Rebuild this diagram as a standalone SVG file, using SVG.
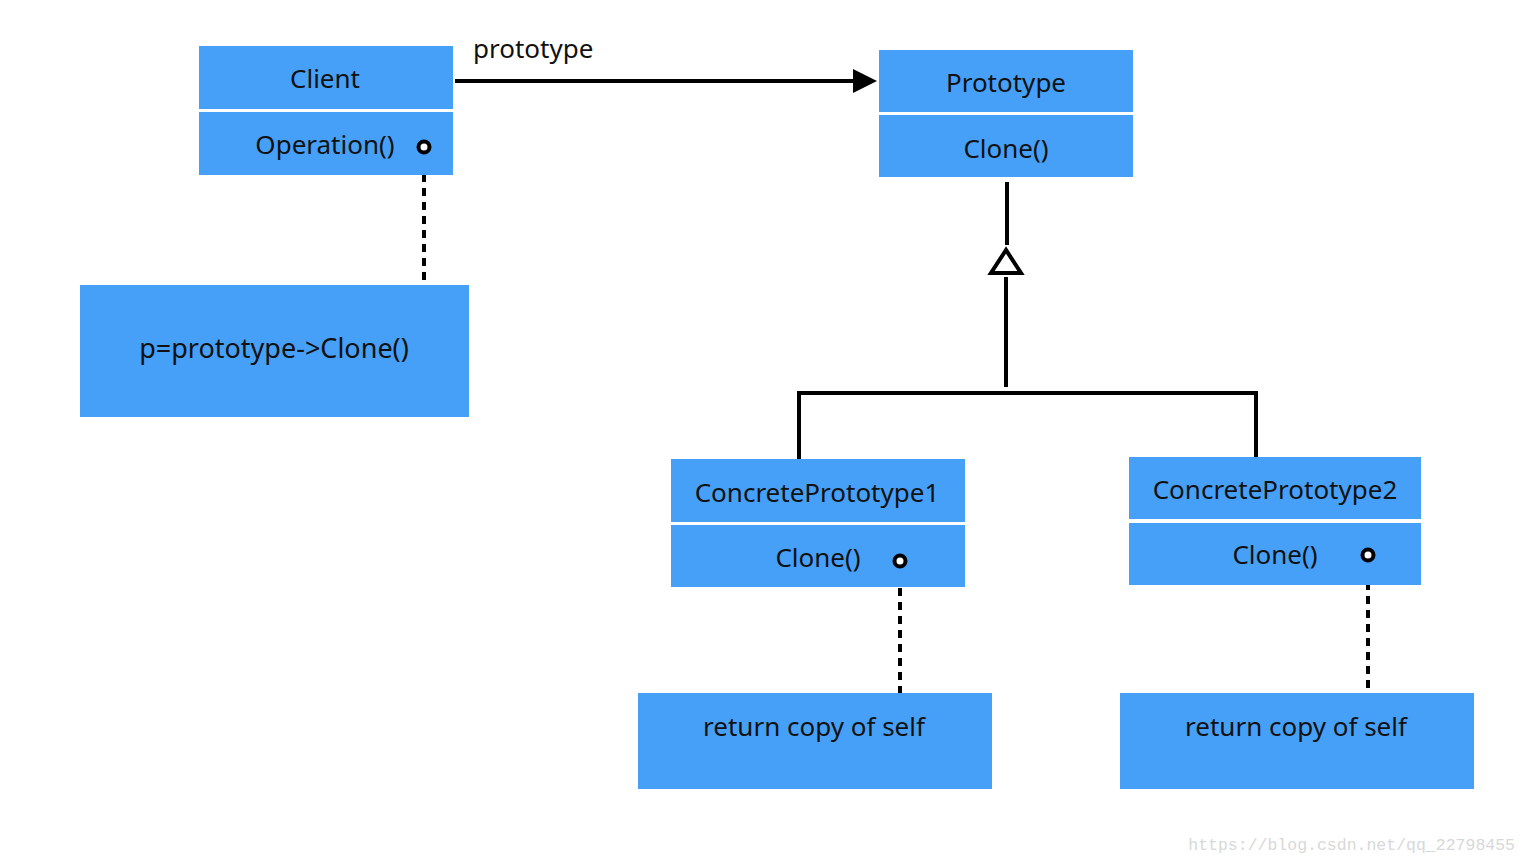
<svg xmlns="http://www.w3.org/2000/svg" width="1526" height="864" viewBox="0 0 1526 864">
<defs>
<style>
.box{fill:#46a0f8;}
.t{font-family:"Noto Sans","Liberation Sans",sans-serif;font-size:26px;fill:#111;text-anchor:middle;}
.ln{stroke:#000;stroke-width:4;fill:none;}
.dash{stroke:#000;stroke-width:4;fill:none;stroke-dasharray:8 6;}
.dot{fill:#fff;stroke:#000;stroke-width:4;}
</style>
</defs>
<rect width="1526" height="864" fill="#fff"/>
<g id="connectors">
<line class="ln" x1="455" y1="81" x2="856" y2="81"/>
<polygon points="853,69 877,81 853,93" fill="#000"/>
<text class="t" x="473" y="58" style="text-anchor:start">prototype</text>
<line class="ln" x1="1007" y1="182" x2="1007" y2="245"/>
<polygon points="1006,250 991,273 1021,273" fill="#fff" stroke="#000" stroke-width="4"/>
<line class="ln" x1="1006" y1="277" x2="1006" y2="387"/>
<polyline class="ln" points="799,459 799,393 1256,393 1256,457"/>
<line class="dash" x1="424" y1="160" x2="424" y2="285"/>
<line class="dash" x1="900" y1="574" x2="900" y2="693"/>
<line class="dash" x1="1368" y1="568" x2="1368" y2="690"/>
</g>
<g id="client">
<rect class="box" x="199" y="46" width="254" height="63"/>
<rect class="box" x="199" y="112" width="254" height="63"/>
<text class="t" x="325" y="88">Client</text>
<text class="t" x="325" y="154">Operation()</text>
<circle class="dot" cx="424" cy="147" r="5.5"/>
</g>
<g id="prototype">
<rect class="box" x="879" y="50" width="254" height="62"/>
<rect class="box" x="879" y="115" width="254" height="62"/>
<text class="t" x="1006" y="92">Prototype</text>
<text class="t" x="1006" y="158">Clone()</text>
</g>
<g id="client-note">
<rect class="box" x="80" y="285" width="389" height="132"/>
<text class="t" x="274" y="358" style="font-size:27px">p=prototype-&gt;Clone()</text>
</g>
<g id="concrete1">
<rect class="box" x="671" y="459" width="294" height="63"/>
<rect class="box" x="671" y="525" width="294" height="62"/>
<text class="t" x="817" y="502">ConcretePrototype1</text>
<text class="t" x="818" y="567">Clone()</text>
<circle class="dot" cx="900" cy="561" r="5.5"/>
</g>
<g id="concrete2">
<rect class="box" x="1129" y="457" width="292" height="62"/>
<rect class="box" x="1129" y="523" width="292" height="62"/>
<text class="t" x="1275" y="499">ConcretePrototype2</text>
<text class="t" x="1275" y="564">Clone()</text>
<circle class="dot" cx="1368" cy="555" r="5.5"/>
</g>
<g id="note1">
<rect class="box" x="638" y="693" width="354" height="96"/>
<text class="t" x="814" y="736">return copy of self</text>
</g>
<g id="note2">
<rect class="box" x="1120" y="693" width="354" height="96"/>
<text class="t" x="1296" y="736">return copy of self</text>
</g>
<text x="1515" y="850" style="font-family:'Liberation Mono',monospace;font-size:16.5px;fill:#d8d8d8;text-anchor:end">https://blog.csdn.net/qq_22798455</text>
</svg>
